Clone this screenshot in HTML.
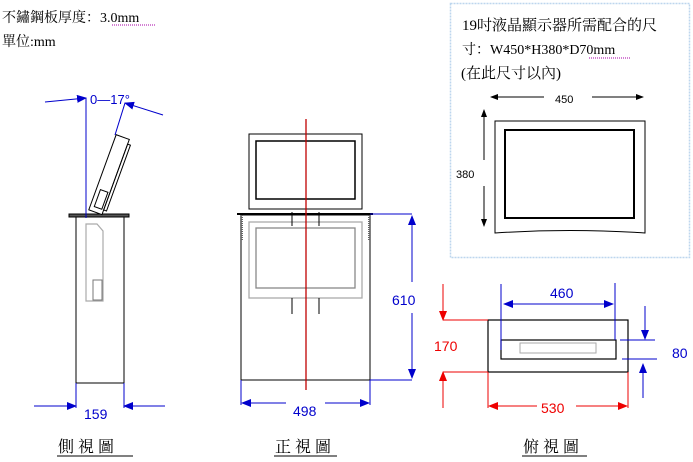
<!DOCTYPE html>
<html><head><meta charset="utf-8"><style>
html,body{margin:0;padding:0;background:#fff;}
svg{display:block;}
text{font-family:"Liberation Serif","Noto Serif CJK SC","Noto Sans CJK TC",serif;}
.s{font-family:"Liberation Sans","Noto Sans CJK TC",sans-serif;}
</style></head><body>
<svg width="693" height="462" viewBox="0 0 693 462" xmlns="http://www.w3.org/2000/svg">
<defs>
<marker id="ab" markerWidth="10" markerHeight="8" refX="9" refY="4" orient="auto" markerUnits="userSpaceOnUse"><path d="M0,0 L10,4 L0,8 Z" fill="#0000cc"/></marker>
<marker id="ar" markerWidth="10" markerHeight="8" refX="9" refY="4" orient="auto" markerUnits="userSpaceOnUse"><path d="M0,0 L10,4 L0,8 Z" fill="#e00"/></marker>
<marker id="ak" markerWidth="8" markerHeight="6" refX="7" refY="3" orient="auto" markerUnits="userSpaceOnUse"><path d="M0,0 L8,3 L0,6 Z" fill="#000"/></marker>
</defs>
<text x="2" y="22" font-size="14" fill="#000">不鏽鋼板厚度：3.0mm</text>
<line x1="112" y1="25" x2="156" y2="25" stroke="#a0a" stroke-width="1" stroke-dasharray="1,1"/>
<text x="2" y="46" font-size="14" fill="#000">單位:mm</text>

<!-- side view -->
<g fill="none" stroke="#000" stroke-width="1">
<rect x="69" y="214" width="60" height="3" fill="#555"/>
<rect x="76" y="217" width="48" height="166"/>
</g>
<path d="M86,224 L97,224 L103,231 L103,301 L86,301 Z" fill="none" stroke="#aaa" stroke-width="1.2"/>
<rect x="93" y="280" width="9" height="20" fill="none" stroke="#777"/>
<g transform="rotate(20 110 175)">
<rect x="102" y="135" width="14" height="80" fill="#fff" stroke="#000"/>
<rect x="116" y="140" width="3" height="70" fill="none" stroke="#000"/>
<rect x="106" y="192" width="8" height="18" fill="none" stroke="#000"/>
</g>
<line x1="86" y1="98" x2="86" y2="218" stroke="#0000cc"/>
<line x1="45" y1="102" x2="86" y2="98" stroke="#0000cc" marker-end="url(#ab)"/>
<line x1="163" y1="115" x2="125" y2="103" stroke="#0000cc" marker-end="url(#ab)"/>
<line x1="125" y1="103" x2="115" y2="135" stroke="#0000cc"/>
<text x="90" y="104" font-size="13" fill="#0000cc" class="s">0—17°</text>
<line x1="76" y1="383" x2="76" y2="408" stroke="#0000cc"/>
<line x1="124" y1="383" x2="124" y2="408" stroke="#0000cc"/>
<line x1="34" y1="406" x2="76" y2="406" stroke="#0000cc" marker-end="url(#ab)"/>
<line x1="165" y1="406" x2="124" y2="406" stroke="#0000cc" marker-end="url(#ab)"/>
<text x="84" y="419" font-size="14" fill="#0000cc" class="s">159</text>

<!-- front view -->
<rect x="249" y="134" width="113" height="75" fill="none" stroke="#000"/>
<rect x="256" y="141" width="99" height="58" fill="none" stroke="#000" stroke-width="1.5"/>
<rect x="237" y="213" width="136" height="2" fill="#000"/>
<rect x="241" y="215" width="129" height="165" fill="none" stroke="#000"/>
<rect x="249" y="222" width="113" height="76" fill="none" stroke="#aaa" stroke-width="1.3"/>
<rect x="256" y="228" width="99" height="60" fill="none" stroke="#888" stroke-width="1.3"/>
<line x1="292" y1="212" x2="292" y2="226" stroke="#000"/><line x1="319" y1="212" x2="319" y2="226" stroke="#000"/>
<line x1="292" y1="298" x2="292" y2="314" stroke="#000"/><line x1="319" y1="298" x2="319" y2="314" stroke="#000"/>
<line x1="242" y1="215" x2="242" y2="240" stroke="#666" stroke-width="2" stroke-dasharray="1,1"/>
<line x1="369" y1="215" x2="369" y2="240" stroke="#666" stroke-width="2" stroke-dasharray="1,1"/>
<line x1="306" y1="119" x2="306" y2="390" stroke="#c00000" stroke-width="1.3"/>
<line x1="370" y1="214" x2="412" y2="214" stroke="#0000cc"/>
<line x1="370" y1="380" x2="412" y2="380" stroke="#0000cc"/>
<line x1="412" y1="282" x2="412" y2="216" stroke="#0000cc" marker-end="url(#ab)"/>
<line x1="412" y1="313" x2="412" y2="378" stroke="#0000cc" marker-end="url(#ab)"/>
<text x="392" y="305" font-size="14" fill="#0000cc" class="s">610</text>
<line x1="241" y1="380" x2="241" y2="405" stroke="#0000cc"/>
<line x1="370" y1="380" x2="370" y2="405" stroke="#0000cc"/>
<line x1="286" y1="403" x2="242" y2="403" stroke="#0000cc" marker-end="url(#ab)"/>
<line x1="325" y1="403" x2="369" y2="403" stroke="#0000cc" marker-end="url(#ab)"/>
<text x="293" y="416" font-size="14" fill="#0000cc" class="s">498</text>

<!-- top view -->
<rect x="488" y="320" width="140" height="52" fill="none" stroke="#000" stroke-width="1.2"/>
<rect x="501" y="340" width="115" height="19" fill="none" stroke="#000" stroke-width="1.2"/>
<rect x="520" y="343" width="76" height="10" fill="none" stroke="#aaa"/>
<line x1="501" y1="284" x2="501" y2="350" stroke="#0000cc"/>
<line x1="615" y1="283" x2="615" y2="340" stroke="#0000cc"/>
<line x1="557" y1="304" x2="504" y2="304" stroke="#0000cc" marker-end="url(#ab)"/>
<line x1="557" y1="304" x2="613" y2="304" stroke="#0000cc" marker-end="url(#ab)"/>
<text x="550" y="298" font-size="14" fill="#0000cc" class="s">460</text>
<line x1="443" y1="320" x2="488" y2="320" stroke="#e00"/>
<line x1="443" y1="372" x2="488" y2="372" stroke="#e00"/>
<line x1="443" y1="284" x2="443" y2="320" stroke="#e00" marker-end="url(#ar)"/>
<line x1="443" y1="408" x2="443" y2="372" stroke="#e00" marker-end="url(#ar)"/>
<text x="434" y="351" font-size="14" fill="#e00" class="s">170</text>
<line x1="488" y1="372" x2="488" y2="408" stroke="#e00"/>
<line x1="628" y1="372" x2="628" y2="408" stroke="#e00"/>
<line x1="537" y1="406" x2="489" y2="406" stroke="#e00" marker-end="url(#ar)"/>
<line x1="576" y1="406" x2="627" y2="406" stroke="#e00" marker-end="url(#ar)"/>
<text x="541" y="413" font-size="14" fill="#e00" class="s">530</text>
<line x1="620" y1="340" x2="655" y2="340" stroke="#0000cc"/>
<line x1="622" y1="359" x2="657" y2="359" stroke="#0000cc"/>
<line x1="645" y1="306" x2="645" y2="339" stroke="#0000cc" marker-end="url(#ab)"/>
<line x1="643" y1="398" x2="643" y2="364" stroke="#0000cc" marker-end="url(#ab)"/>
<text x="672" y="358" font-size="14" fill="#0000cc" class="s">80</text>

<!-- info box -->
<rect x="450.5" y="3.5" width="239" height="254" fill="#fff" stroke="#bcd6ee" stroke-width="1.5" stroke-dasharray="2,1"/>
<text x="462" y="30" font-size="15" fill="#000">19吋液晶顯示器所需配合的尺</text>
<text x="462" y="54" font-size="14" fill="#000">寸：W450*H380*D70mm</text>
<line x1="589" y1="58" x2="631" y2="58" stroke="#a0a" stroke-dasharray="1,1"/>
<text x="461" y="78" font-size="15" fill="#000">(在此尺寸以內)</text>
<line x1="544" y1="97" x2="491" y2="97" stroke="#000" marker-end="url(#ak)"/>
<line x1="592" y1="97" x2="643" y2="97" stroke="#000" marker-end="url(#ak)"/>
<text x="555" y="103" font-size="11" fill="#000" class="s">450</text>
<line x1="484" y1="160" x2="484" y2="110" stroke="#000" marker-end="url(#ak)"/>
<line x1="484" y1="186" x2="484" y2="226" stroke="#000" marker-end="url(#ak)"/>
<text x="456" y="178" font-size="11" fill="#000" class="s">380</text>
<path d="M495,121 L645,121 L645,233 Q570,228 495,233 Z" fill="none" stroke="#000"/>
<rect x="505" y="130" width="129" height="88" fill="none" stroke="#000" stroke-width="2"/>

<!-- captions -->
<text x="58" y="452" font-size="16" fill="#000" letter-spacing="4">側視圖</text>
<line x1="57" y1="456" x2="133" y2="456" stroke="#000"/>
<text x="275" y="452" font-size="16" fill="#000" letter-spacing="4">正視圖</text>
<line x1="274" y1="456" x2="337" y2="456" stroke="#000"/>
<text x="523" y="452" font-size="16" fill="#000" letter-spacing="4">俯視圖</text>
<line x1="522" y1="456" x2="587" y2="456" stroke="#000"/>
</svg>
</body></html>
